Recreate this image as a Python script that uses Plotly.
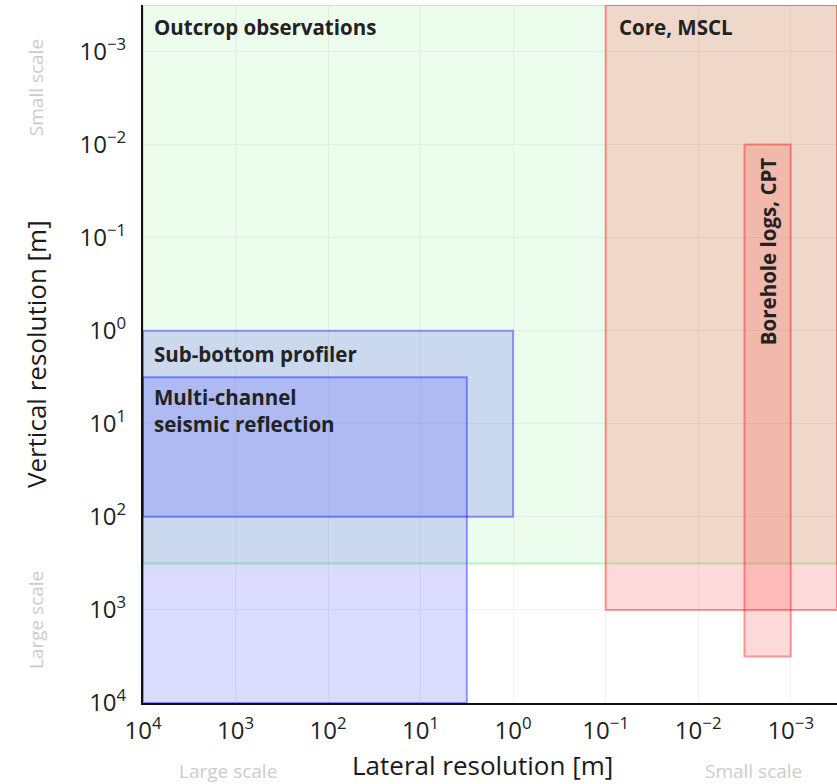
import numpy as np
import plotly.graph_objects as go

# Methods: name, lateral range (m), vertical range (m)
methods = ["Outcrop observations", "Core, MSCL", "Borehole logs, CPT",
           "Sub-bottom profiler", "Multi-channel seismic reflection"]
lat_lo = [10**-3.5, 10**-3.5, 1e-3, 1e0, 10**0.5]      # fine lateral end
lat_hi = [1e4, 1e-1, 10**-2.5, 1e4, 1e4]               # coarse lateral end
ver_lo = [10**-3.5, 10**-3.5, 1e-2, 1e0, 10**0.5]      # fine vertical end
ver_hi = [10**2.5, 1e3, 10**3.5, 1e2, 1e4]             # coarse vertical end

tick_exps = [4, 3, 2, 1, 0, -1, -2, -3]

fills = ["rgba(0,230,0,0.07)", "rgba(255,0,0,0.145)", "rgba(255,0,0,0.145)",
         "rgba(0,0,255,0.14)", "rgba(0,0,255,0.14)"]
edges = ["rgba(0,230,0,0.25)", "rgba(255,0,0,0.38)", "rgba(255,0,0,0.38)",
         "rgba(0,0,255,0.38)", "rgba(0,0,255,0.38)"]

FONT = "Open Sans"

fig = go.Figure()
for i, name in enumerate(methods):
    xs = [lat_hi[i], lat_lo[i], lat_lo[i], lat_hi[i], lat_hi[i]]
    ys = [ver_lo[i], ver_lo[i], ver_hi[i], ver_hi[i], ver_lo[i]]
    fig.add_trace(go.Scatter(x=xs, y=ys, mode="lines", fill="toself",
                             fillcolor=fills[i],
                             line=dict(color=edges[i], width=2),
                             hoverinfo="skip", showlegend=False, name=name))

ticktext = ["10<sup>%s</sup>" % (str(e).replace("-", "\u2212")) for e in tick_exps]
tickvals = [10.0**e for e in tick_exps]

lab_font = dict(family=FONT, size=20.5, color="#222222")
anns = []
anns.append(dict(x=np.log10(lat_hi[0]), y=np.log10(ver_lo[0]), xref="x", yref="y",
                 text="<b>Outcrop observations</b>", showarrow=False,
                 xanchor="left", yanchor="top", xshift=9, yshift=-6, font=lab_font))
anns.append(dict(x=np.log10(lat_hi[1]), y=np.log10(ver_lo[1]), xref="x", yref="y",
                 text="<b>Core, MSCL</b>", showarrow=False,
                 xanchor="left", yanchor="top", xshift=11, yshift=-6, font=lab_font))
anns.append(dict(x=(np.log10(lat_hi[2]) + np.log10(lat_lo[2])) / 2,
                 y=np.log10(ver_lo[2]), xref="x", yref="y",
                 text="<b>Borehole logs, CPT</b>", showarrow=False, textangle=-90,
                 xanchor="center", yanchor="top", yshift=-11, font=lab_font))
anns.append(dict(x=np.log10(lat_hi[3]), y=np.log10(ver_lo[3]), xref="x", yref="y",
                 text="<b>Sub-bottom profiler</b>", showarrow=False,
                 xanchor="left", yanchor="top", xshift=9, yshift=-7, font=lab_font))
anns.append(dict(x=np.log10(lat_hi[4]), y=np.log10(ver_lo[4]), xref="x", yref="y",
                 text="<b>Multi-channel<br>seismic reflection</b>", showarrow=False,
                 xanchor="left", yanchor="top", xshift=9, yshift=-4, align="left",
                 font=lab_font))

gray = dict(family=FONT, size=19, color="#cccccc")
title_font = dict(family=FONT, size=26, color="#1a1a1a")
common = dict(xref="paper", yref="paper", showarrow=False,
              xanchor="center", yanchor="middle")
anns += [
    dict(x=-0.154, y=0.881, text="Small scale", textangle=-90, font=gray, **common),
    dict(x=-0.154, y=0.119, text="Large scale", textangle=-90, font=gray, **common),
    dict(x=0.1225, y=-0.0975, text="Large scale", font=gray, **common),
    dict(x=0.879, y=-0.0975, text="Small scale", font=gray, **common),
    dict(x=0.4885, y=-0.089, text="Lateral resolution [m]", font=title_font, **common),
    dict(x=-0.154, y=0.5, text="Vertical resolution [m]", textangle=-90,
         font=title_font, **common),
]

axis_common = dict(type="log", tickvals=tickvals, ticktext=ticktext,
                   showgrid=True, gridcolor="rgba(0,0,0,0.05)", gridwidth=1,
                   zeroline=False, showline=True, linecolor="#111111", linewidth=2,
                   ticks="", tickfont=dict(family=FONT, size=24, color="#222222"))

fig.update_layout(
    width=837, height=784,
    margin=dict(l=143, r=0, t=5, b=81),
    paper_bgcolor="white", plot_bgcolor="white",
    xaxis=dict(range=[4, -3.5], ticklabelstandoff=5, **axis_common),
    yaxis=dict(range=[4, -3.5], ticklabelstandoff=10, **axis_common),
    annotations=anns,
)
fig.write_html("out.html", config={"displayModeBar": False},
               post_script="document.body.style.margin='0px';")
